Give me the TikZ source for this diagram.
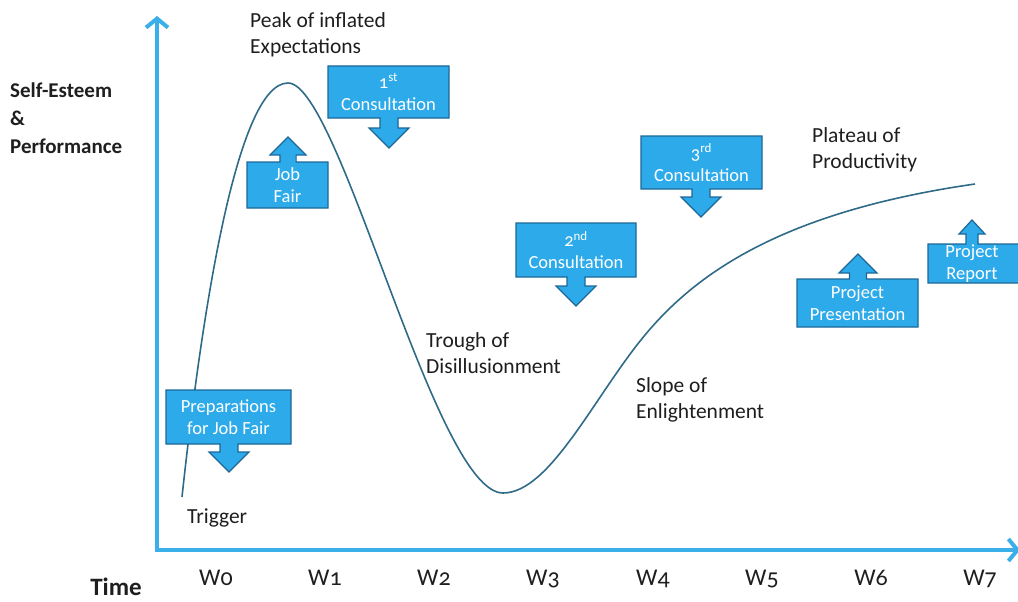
\documentclass[tikz,border=0pt]{standalone}
\usepackage{fontspec}
\setmainfont{Carlito}[Numbers=OldStyle]
\usetikzlibrary{arrows.meta,calc}
\definecolor{axiscol}{HTML}{3AAFE9}
\definecolor{cofill}{HTML}{2DAAEA}
\definecolor{coedge}{HTML}{1D6796}
\definecolor{curvecol}{HTML}{2F6B88}
\definecolor{txtcol}{HTML}{1E1E1E}
\tikzset{
  co/.style={fill=cofill, draw=coedge, line width=1.2pt, line join=miter},
  cotext/.style={text=white, align=center, inner sep=0pt, font=\fontsize{18.5}{22}\selectfont},
  lab/.style={text=txtcol, align=left, inner sep=0pt, anchor=north west, font=\fontsize{21.5}{26.5}\selectfont},
  wlab/.style={text=txtcol, inner sep=0pt, anchor=base, font=\fontsize{24}{28}\selectfont},
  axisline/.style={draw=axiscol, line width=4pt, -{Straight Barb[length=9pt,width=22pt,line width=4pt]}},
}
% name, x1, y1, x2, y2, arrow x, tip y, head half width, text
\newcommand\codown[9]{%
  \path[co] (#2,#3) -- (#4,#3) -- (#4,#5) -- ({#6+0.45*#8},#5) -- ({#6+0.45*#8},{#7-#8}) -- ({#6+#8},{#7-#8}) -- (#6,#7)
    -- ({#6-#8},{#7-#8}) -- ({#6-0.45*#8},{#7-#8}) -- ({#6-0.45*#8},#5) -- (#2,#5) -- cycle;
  \node[cotext] (#1) at ({(#2+#4)/2},{(#3+#5)/2}) {#9};}
\newcommand\coup[9]{%
  \path[co] (#2,#5) -- (#4,#5) -- (#4,#3) -- ({#6+0.45*#8},#3) -- ({#6+0.45*#8},{#7+#8}) -- ({#6+#8},{#7+#8}) -- (#6,#7)
    -- ({#6-#8},{#7+#8}) -- ({#6-0.45*#8},{#7+#8}) -- ({#6-0.45*#8},#3) -- (#2,#3) -- cycle;
  \node[cotext] (#1) at ({(#2+#4)/2},{(#3+#5)/2}) {#9};}
\begin{document}
\begin{tikzpicture}[x=1pt,y=-1pt]
\useasboundingbox (0,0) rectangle (1018,602);
\clip (0,0) rectangle (1018,602);
% axes
\coordinate (o) at (157,550);
\coordinate (ytop) at (157,16);
\coordinate (xend) at (1020,550);
\draw[axisline] ($(o)+(0,2)$) -- (ytop);
\draw[axisline] ($(o)+(-2,0)$) -- (xend);
% curve
\coordinate (c0) at (182,497);
\coordinate (cpeak) at (288,83);
\coordinate (ctrough) at (503,493);
\coordinate (cinfl) at (645,335);
\coordinate (cend) at (975,184);
\draw[curvecol, line width=1.6pt] (c0) .. controls (200,330) and (235,83) .. (cpeak)
  .. controls (340,83) and (435,493) .. (ctrough)
  .. controls (550,493) and (595,395) .. (cinfl)
  .. controls (695,275) and (780,212) .. (cend);
% labels
\node[lab] (peak) at (250,12) {Peak of inflated\\Expectations};
\node[lab] (trough) at (426,332) {Trough of\\Disillusionment};
\node[lab] (slope) at (636,377) {Slope of\\Enlightenment};
\node[lab] (plateau) at (812,127) {Plateau of\\Productivity};
\node[lab] (trigger) at (187,509) {Trigger};
\node[lab, font=\bfseries\fontsize{21}{28}\selectfont] (ylab) at (10,83) {Self-Esteem\\\&\\Performance};
\node[wlab, font=\bfseries\fontsize{25}{29}\selectfont] (time) at (116,595) {Time};
\foreach \i/\x in {0/216,1/325,2/434,3/543,4/653,5/762,6/871,7/980}
  \node[wlab] (w\i) at (\x,585) {W\i};
% callouts
\codown{prep}{166}{390}{291}{444}{229}{472}{20}{Preparations\\for Job Fair}
\coup{jobfair}{247}{162}{328}{208}{288}{137}{18}{Job\\Fair}
\codown{cons1}{328}{66}{449}{118}{389}{148}{20}{1\textsuperscript{st}\\Consultation}
\codown{cons2}{516}{223}{636}{277}{576}{306}{20}{2\textsuperscript{nd}\\Consultation}
\codown{cons3}{641}{136}{762}{189}{701}{217}{20}{3\textsuperscript{rd}\\Consultation}
\coup{pres}{797}{279}{918}{327}{858}{254}{19}{Project\\Presentation}
\path[co] (928,283) -- (1030,283) -- (1030,244) -- (978,244) -- (978,234) -- (985,234) -- (972,220) -- (959,234) -- (966,234) -- (966,244) -- (928,244) -- cycle;
\node[cotext] (report) at (972,264) {Project\\Report};
\end{tikzpicture}
\end{document}
